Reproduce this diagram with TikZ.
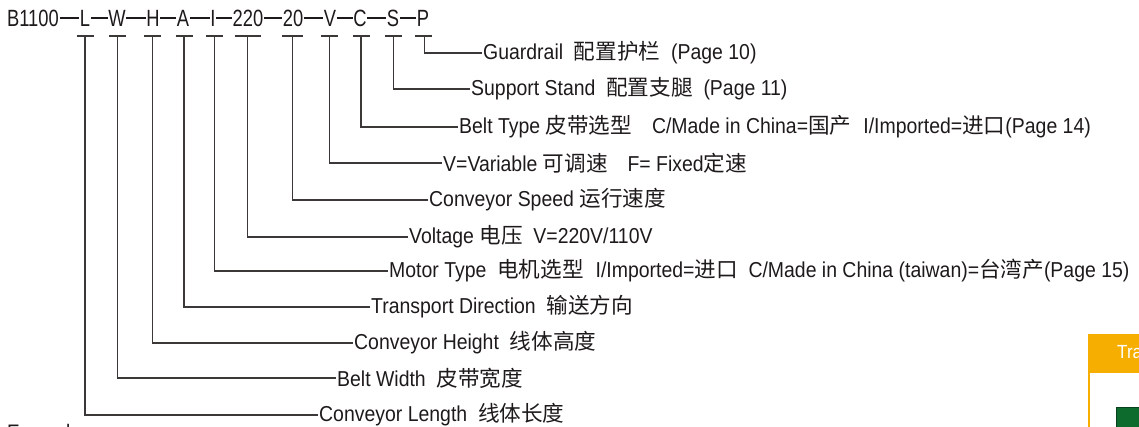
\documentclass[tikz,border=0pt]{standalone}
\usepackage{fontspec}
\setmainfont[FakeStretch=0.9]{Liberation Sans}
\newfontfamily\codefont[FakeStretch=0.78]{Liberation Sans}
\newfontfamily\cjk{Noto Sans CJK SC}
\usepackage{tikz}

\definecolor{ink}{HTML}{1E1A1B}
\definecolor{wirecol}{HTML}{3C3837}
\definecolor{tabhead}{HTML}{F6AF00}
\definecolor{tabgreen}{HTML}{0E6B2E}

\begin{document}
\begin{tikzpicture}[
  x=1pt, y=-1pt,
  code/.style={inner sep=0.6pt, text=ink, font=\codefont\fontsize{23.5}{26}\selectfont},
  lbl/.style={anchor=west, inner sep=1pt, text=ink, font=\fontsize{21.6}{24}\selectfont},
  bar/.style={line width=2.8pt, draw=ink},
  wire/.style={line width=1.1pt, draw=wirecol},
  tickbar/.style={line width=1.1pt, draw=wirecol}
]
  \clip (0,0) rectangle (1139,427);
  \useasboundingbox (0,0) rectangle (1139,427);

  % model code on top
  \node[code] (cB) at (33,18) {B1100};
  \node[code] (cL) at (85,18) {L};
  \node[code] (cW) at (117,18) {W};
  \node[code] (cH) at (153,18) {H};
  \node[code] (cA) at (183,18) {A};
  \node[code] (cI) at (213,18) {I};
  \node[code] (c220) at (248,18) {220};
  \node[code] (c20) at (293,18) {20};
  \node[code] (cV) at (330,18) {V};
  \node[code] (cC) at (360,18) {C};
  \node[code] (cS) at (393,18) {S};
  \node[code] (cP) at (423,18) {P};
  \draw[bar] (cB) -- (cL);
  \draw[bar] (cL) -- (cW);
  \draw[bar] (cW) -- (cH);
  \draw[bar] (cH) -- (cA);
  \draw[bar] (cA) -- (cI);
  \draw[bar] (cI) -- (c220);
  \draw[bar] (c220) -- (c20);
  \draw[bar] (c20) -- (cV);
  \draw[bar] (cV) -- (cC);
  \draw[bar] (cC) -- (cS);
  \draw[bar] (cS) -- (cP);

  % tick marks under each field
  \coordinate (tL) at (85,36);
  \coordinate (tW) at (117.3,36);
  \coordinate (tH) at (152.7,36);
  \coordinate (tA) at (184,36);
  \coordinate (tI) at (214.3,36);
  \coordinate (t220) at (247.7,36);
  \coordinate (t20) at (292.7,36);
  \coordinate (tV) at (329.3,36);
  \coordinate (tC) at (361,36);
  \coordinate (tS) at (393.3,36);
  \coordinate (tP) at (424.3,36);
  \draw[tickbar] ([xshift=-8.5]tL) -- ([xshift=8.5]tL);
  \draw[tickbar] ([xshift=-8.5]tW) -- ([xshift=8.5]tW);
  \draw[tickbar] ([xshift=-8.5]tH) -- ([xshift=8.5]tH);
  \draw[tickbar] ([xshift=-8.5]tA) -- ([xshift=8.5]tA);
  \draw[tickbar] ([xshift=-8.5]tI) -- ([xshift=8.5]tI);
  \draw[tickbar] ([xshift=-13]t220) -- ([xshift=13]t220);
  \draw[tickbar] ([xshift=-10.5]t20) -- ([xshift=10.5]t20);
  \draw[tickbar] ([xshift=-8.5]tV) -- ([xshift=8.5]tV);
  \draw[tickbar] ([xshift=-8.5]tC) -- ([xshift=8.5]tC);
  \draw[tickbar] ([xshift=-8.5]tS) -- ([xshift=8.5]tS);
  \draw[tickbar] ([xshift=-9.5]tP) -- ([xshift=8]tP);

  % field descriptions
  \node[lbl] (lP) at (482,53) {Guardrail\ \ {\cjk 配置护栏}\ \ (Page 10)};
  \node[lbl] (lS) at (470,89) {Support Stand\ \ {\cjk 配置支腿}\ \ (Page 11)};
  \node[lbl] (lC) at (458,127) {Belt Type {\cjk 皮带选型}\hspace{20pt}C/Made in China={\cjk 国产}\hspace{12pt}I/Imported={\cjk 进口}(Page 14)};
  \node[lbl] (lV) at (442,163) {V=Variable {\cjk 可调速}\hspace{20pt}F= Fixed{\cjk 定速}};
  \node[lbl] (l20) at (428,200) {Conveyor Speed {\cjk 运行速度}};
  \node[lbl] (l220) at (408,237) {Voltage {\cjk 电压}\ \ V=220V/110V};
  \node[lbl] (lI) at (388,271) {Motor Type\ \ {\cjk 电机选型}\hspace{12pt}I/Imported={\cjk 进口}\ \ C/Made in China (taiwan)={\cjk 台湾产}(Page 15)};
  \node[lbl] (lA) at (370,307) {Transport Direction\ \ {\cjk 输送方向}};
  \node[lbl] (lH) at (353,343) {Conveyor Height\ \ {\cjk 线体高度}};
  \node[lbl] (lW) at (336,378) {Belt Width\ \ {\cjk 皮带宽度}};
  \node[lbl] (lL) at (318,415) {Conveyor Length\ \ {\cjk 线体长度}};

  \draw[wire] (tP) |- (lP.west);
  \draw[wire] (tS) |- (lS.west);
  \draw[wire] (tC) |- (lC.west);
  \draw[wire] (tV) |- (lV.west);
  \draw[wire] (t20) |- (l20.west);
  \draw[wire] (t220) |- (l220.west);
  \draw[wire] (tI) |- (lI.west);
  \draw[wire] (tA) |- (lA.west);
  \draw[wire] (tH) |- (lH.west);
  \draw[wire] (tW) |- (lW.west);
  \draw[wire] (tL) |- (lL.west);

  % cut-off parts at the page edges
  \node[anchor=north west, inner sep=0pt, text=ink, font=\fontsize{21}{24}\selectfont] (example) at (7,424) {Example};
  \fill[tabhead] (1088,334) rectangle (1150,373);
  \node[anchor=west, inner sep=0pt, text=white, font=\fontsize{19}{22}\selectfont] (tabtitle) at (1117,354) {Transport};
  \draw[tabhead, line width=1.2pt] (1089,373) -- (1089,430);
  \draw[tabgreen!60!black, fill=tabgreen, line width=1.2pt] (1116.5,407.5) rectangle (1150,440);
\end{tikzpicture}
\end{document}
